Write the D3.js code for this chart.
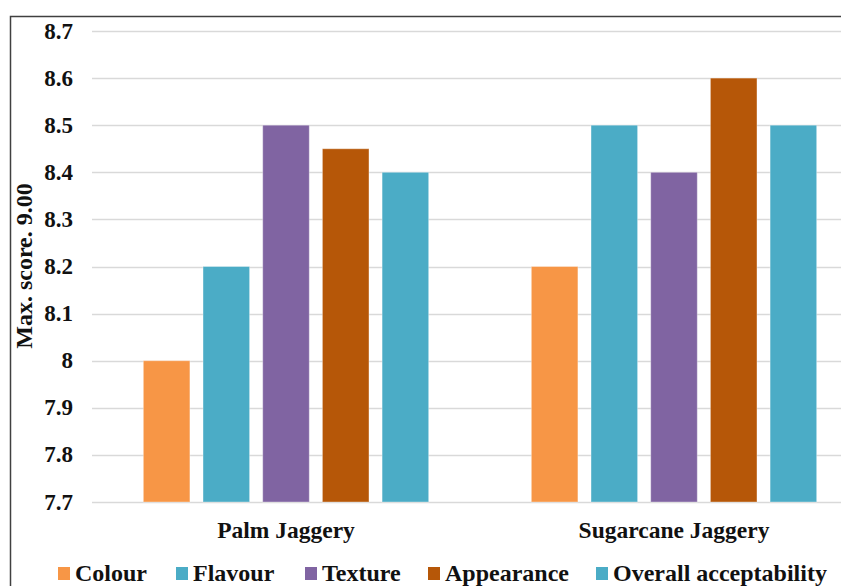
<!DOCTYPE html>
<html>
<head>
<meta charset="utf-8">
<script src="https://cdn.jsdelivr.net/npm/d3@7"></script>
<style>
  html, body { margin: 0; padding: 0; background: #fff; overflow: hidden; }
  svg { display: block; }
</style>
</head>
<body>
<svg id="chart" width="841" height="586"></svg>
<script>
// Sensory scores of jaggery samples
const categories = ["Palm Jaggery", "Sugarcane Jaggery"];
const seriesNames = ["Colour", "Flavour", "Texture", "Appearance", "Overall acceptability"];
const seriesColors = ["#F79646", "#4BACC6", "#8064A2", "#B65708", "#4BACC6"];
const palmValues = [8.0, 8.2, 8.5, 8.45, 8.4];
const sugarcaneValues = [8.2, 8.5, 8.4, 8.6, 8.5];
const yTicks = [7.7, 7.8, 7.9, 8.0, 8.1, 8.2, 8.3, 8.4, 8.5, 8.6, 8.7];
const yTickLabels = ["7.7", "7.8", "7.9", "8", "8.1", "8.2", "8.3", "8.4", "8.5", "8.6", "8.7"];
const yTitle = "Max. score. 9.00";

const valuesByCategory = [palmValues, sugarcaneValues];
const serif = "'Liberation Serif', 'Times New Roman', Times, serif";

const svg = d3.select("#chart");

// Outer chart frame
svg.append("rect")
  .attr("x", 10.5).attr("y", 16.5)
  .attr("width", 900).attr("height", 700)
  .attr("fill", "#fff").attr("stroke", "#404040").attr("stroke-width", 1.5);

const plotLeft = 92, plotRight = 868, plotTop = 31, plotBottom = 502;

const y = d3.scaleLinear().domain([7.7, 8.7]).range([plotBottom, plotTop]);
const x0 = d3.scaleBand().domain(categories).range([plotLeft, plotRight]).padding(0);
const x1 = d3.scaleBand().domain(seriesNames).range([0, x0.bandwidth()])
  .paddingInner(0.22).paddingOuter(0.86);

// Gridlines
svg.append("g").selectAll("line").data(yTicks).join("line")
  .attr("x1", plotLeft).attr("x2", plotRight)
  .attr("y1", d => Math.round(y(d)) + 0.5).attr("y2", d => Math.round(y(d)) + 0.5)
  .attr("stroke", "#d9d9d9").attr("stroke-width", 1.5);

// Y tick labels
svg.append("g").selectAll("text").data(yTicks).join("text")
  .attr("x", 73).attr("y", d => y(d))
  .attr("dy", "0.33em")
  .attr("text-anchor", "end")
  .attr("font-family", serif).attr("font-weight", "bold")
  .attr("font-size", 23)
  .attr("fill", "#111")
  .text((d, i) => yTickLabels[i]);

// Bars
const groups = svg.append("g").selectAll("g").data(categories).join("g")
  .attr("transform", d => `translate(${x0(d)},0)`);

groups.selectAll("rect")
  .data((c, ci) => seriesNames.map((s, si) => ({ s, si, v: valuesByCategory[ci][si] })))
  .join("rect")
  .attr("x", d => x1(d.s))
  .attr("y", d => y(d.v))
  .attr("width", x1.bandwidth())
  .attr("height", d => y(7.7) - y(d.v))
  .attr("fill", d => seriesColors[d.si])
  .attr("stroke", "#ffffff").attr("stroke-opacity", 0.35).attr("stroke-width", 1);

// Category labels
svg.append("g").selectAll("text").data(categories).join("text")
  .attr("x", d => x0(d) + x0.bandwidth() / 2)
  .attr("y", 538)
  .attr("text-anchor", "middle")
  .attr("font-family", serif).attr("font-weight", "bold")
  .attr("font-size", 23.5)
  .attr("fill", "#111")
  .text(d => d);

// Y axis title
svg.append("text")
  .attr("transform", "translate(32,266) rotate(-90)")
  .attr("text-anchor", "middle")
  .attr("font-family", serif).attr("font-weight", "bold")
  .attr("font-size", 24)
  .attr("fill", "#111")
  .text(yTitle);

// Legend
const legendX = [58, 176, 305, 428, 596];
const legend = svg.append("g").selectAll("g").data(seriesNames).join("g")
  .attr("transform", (d, i) => `translate(${legendX[i]},567)`);
legend.append("rect")
  .attr("width", 12).attr("height", 13)
  .attr("fill", (d, i) => seriesColors[i]);
legend.append("text")
  .attr("x", 17).attr("y", 14)
  .attr("font-family", serif).attr("font-weight", "bold")
  .attr("font-size", 24)
  .attr("fill", "#111")
  .text(d => d);
</script>
</body>
</html>
